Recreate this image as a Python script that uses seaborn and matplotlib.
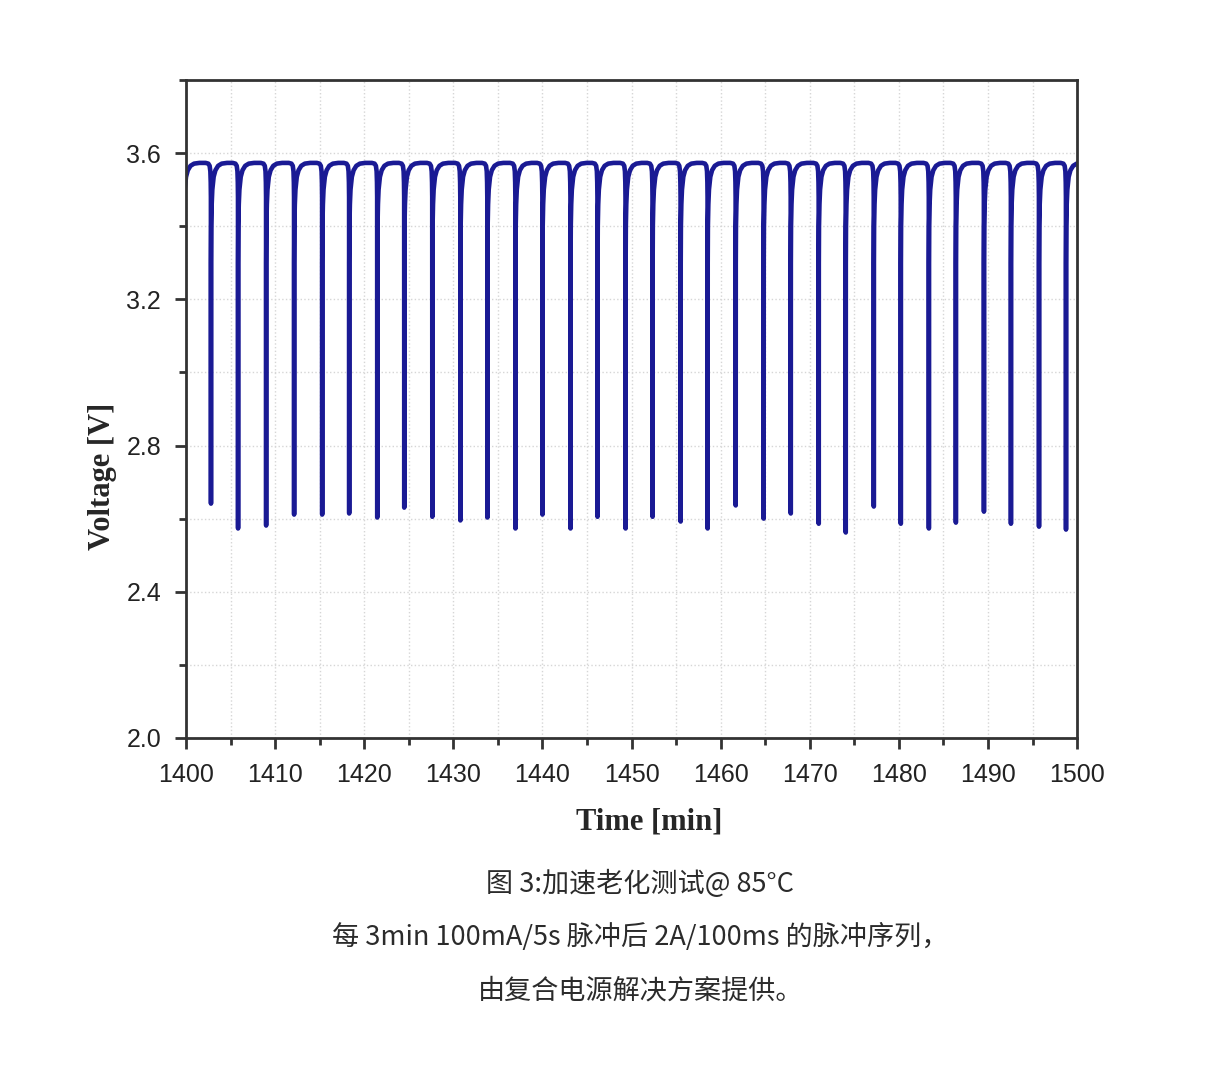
import numpy as np
import pandas as pd
import matplotlib
matplotlib.use("Agg")
import matplotlib.pyplot as plt
from matplotlib.ticker import MultipleLocator
import seaborn as sns

# pulse times [min] and voltage minimum at each 2A/100ms pulse
pulse_times = [1399.7, 1402.8, 1405.84, 1408.99, 1412.13, 1415.28, 1418.31, 1421.46,
               1424.49, 1427.64, 1430.79, 1433.82, 1436.97, 1440.0, 1443.15, 1446.18,
               1449.33, 1452.36, 1455.51, 1458.54, 1461.69, 1464.83, 1467.87, 1471.01,
               1474.04, 1477.19, 1480.22, 1483.37, 1486.40, 1489.55, 1492.58, 1495.73,
               1498.76]
pulse_min = [2.60, 2.641, 2.573, 2.581, 2.611, 2.611, 2.614, 2.603,
             2.630, 2.605, 2.595, 2.603, 2.573, 2.611, 2.573, 2.605,
             2.573, 2.605, 2.592, 2.573, 2.636, 2.600, 2.614, 2.586,
             2.562, 2.633, 2.586, 2.573, 2.589, 2.619, 2.586, 2.578,
             2.570]

rec_dt = [0.01, 0.03, 0.08, 0.15, 0.3, 0.5, 0.8, 1.2, 1.8]
rec_v = [3.30, 3.40, 3.46, 3.50, 3.535, 3.553, 3.565, 3.571, 3.573]
pre_dt = [-0.6, -0.3, -0.15, -0.07, -0.03, -0.01]
pre_v = [3.573, 3.571, 3.565, 3.55, 3.52, 3.48]

xticks = [1400, 1410, 1420, 1430, 1440, 1450, 1460, 1470, 1480, 1490, 1500]
yticks = [2.0, 2.4, 2.8, 3.2, 3.6]

captions = ["图 3:加速老化测试@ 85°C",
            "每 3min 100mA/5s 脉冲后 2A/100ms 的脉冲序列，",
            "由复合电源解决方案提供。"]

t, v = [], []
for i, (tp, vm) in enumerate(zip(pulse_times, pulse_min)):
    if i > 0:
        t += [tp + d for d in pre_dt]
        v += pre_v
    t.append(tp)
    v.append(vm)
    t += [tp + d for d in rec_dt]
    v += rec_v
df = pd.DataFrame({"Time": t, "Voltage": v})

sns.set_style("ticks")
plt.rcParams["font.family"] = ["Liberation Sans", "DejaVu Sans"]

fig = plt.figure(figsize=(12.08, 10.8), dpi=100)
ax = fig.add_axes([0.154, 0.3167, 0.7376, 0.6093])

sns.lineplot(data=df, x="Time", y="Voltage", estimator=None, sort=False,
             color="#1a1a94", linewidth=3.3, ax=ax)

ax.set_xlim(1400, 1500)
ax.set_ylim(2.0, 3.8)
ax.set_xticks(xticks)
ax.set_yticks(yticks)
ax.xaxis.set_minor_locator(MultipleLocator(5))
ax.yaxis.set_minor_locator(MultipleLocator(0.2))
ax.set_yticklabels([f"{y:.1f}" for y in yticks])

ax.grid(True, which="both", color="#d6d6d6", linestyle=":", linewidth=1)
ax.set_axisbelow(True)

for s in ax.spines.values():
    s.set_visible(True)
    s.set_color("#333333")
    s.set_linewidth(2)

ax.tick_params(which="major", direction="out", length=8, width=2, color="#333333",
               labelsize=18, labelcolor="#222222", pad=10)
ax.tick_params(which="minor", direction="out", length=5, width=2, color="#333333")

ax.set_xlabel("Time [min]", family="Liberation Serif", fontweight="bold", fontsize=22)
ax.set_ylabel("Voltage [V]", family="Liberation Serif", fontweight="bold", fontsize=22)
ax.xaxis.set_label_coords(0.52, -0.105)
ax.yaxis.set_label_coords(-0.077, 0.397)

for txt, yy in zip(captions, [0.1815, 0.1324, 0.0824]):
    fig.text(0.530, yy, txt, ha="center", va="center", fontsize=19.5, color="#2b2b2b",
             family=["Noto Sans CJK SC", "DejaVu Sans"])

fig.savefig("out.png", dpi=100, facecolor="white")
